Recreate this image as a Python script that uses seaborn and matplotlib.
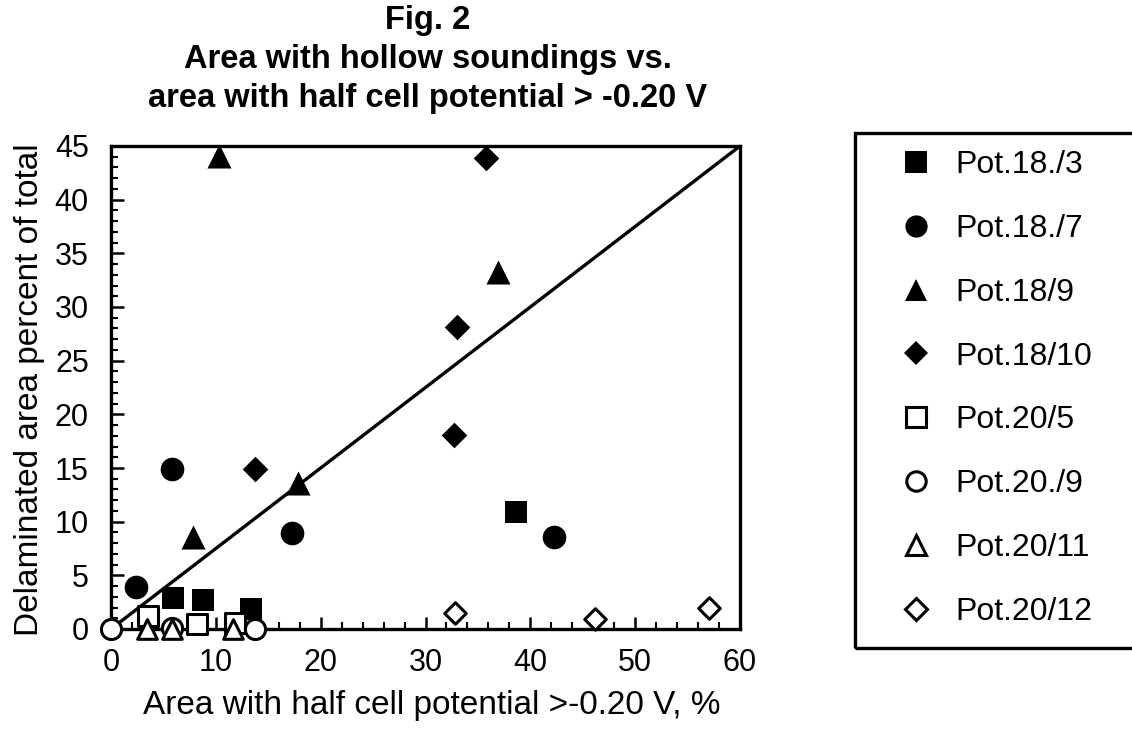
import matplotlib
matplotlib.use("Agg")
import matplotlib.pyplot as plt
import seaborn as sns
import pandas as pd
from matplotlib.patches import Rectangle
from matplotlib.ticker import MultipleLocator

# ---- data ----
series_names = ["Pot.18./3", "Pot.18./7", "Pot.18/9", "Pot.18/10",
                "Pot.20/5", "Pot.20./9", "Pot.20/11", "Pot.20/12"]
x_18_3 = [5.9, 8.8, 13.4, 38.6]
y_18_3 = [2.9, 2.7, 1.9, 10.9]
x_18_7 = [2.4, 5.8, 17.3, 42.3]
y_18_7 = [3.9, 14.9, 8.9, 8.6]
x_18_9 = [10.3, 36.9, 7.8, 17.8]
y_18_9 = [44.1, 33.3, 8.6, 13.6]
x_18_10 = [35.8, 33.0, 32.7, 13.7]
y_18_10 = [43.9, 28.1, 18.1, 14.9]
x_20_5 = [3.5, 8.2, 11.8]
y_20_5 = [1.2, 0.5, 0.6]
x_20_9 = [0.0, 5.8, 13.7]
y_20_9 = [0.0, 0.1, 0.0]
x_20_11 = [3.4, 5.8, 11.6]
y_20_11 = [0.0, 0.0, 0.0]
x_20_12 = [32.8, 46.2, 57.0]
y_20_12 = [1.5, 0.9, 2.0]
line_x = [0, 60]
line_y = [0, 45]

xs = [x_18_3, x_18_7, x_18_9, x_18_10, x_20_5, x_20_9, x_20_11, x_20_12]
ys = [y_18_3, y_18_7, y_18_9, y_18_10, y_20_5, y_20_9, y_20_11, y_20_12]

markers = ["s", "o", "^", "D", "s", "o", "^", "D"]
filled = [True, True, True, True, False, False, False, False]
sizes = [250, 290, 300, 170, 190, 210, 200, 120]
leg_sizes = [16, 16, 16, 12, 14, 14, 14, 11]

sns.set_style("white")
plt.rcParams["font.family"] = ["Liberation Sans", "DejaVu Sans"]
plt.rcParams["text.color"] = "black"
plt.rcParams["axes.labelcolor"] = "black"

fig = plt.figure(figsize=(11.32, 7.30), dpi=100)
ax = fig.add_axes([111/1132, 1-629/730, (740-111)/1132, (629-146)/730])

sns.lineplot(x=line_x, y=line_y, ax=ax, color="black", linewidth=2.4, zorder=2)

for name, x, y, m, f, s in zip(series_names, xs, ys, markers, filled, sizes):
    df = pd.DataFrame({"x": x, "y": y})
    sns.scatterplot(data=df, x="x", y="y", ax=ax, marker=m, s=s,
                    color="black" if f else "white",
                    edgecolor="black", linewidth=0 if f else 2.2,
                    zorder=4, clip_on=False, legend=False)

ax.set_xlim(0, 60)
ax.set_ylim(0, 45)
ax.xaxis.set_major_locator(MultipleLocator(10))
ax.xaxis.set_minor_locator(MultipleLocator(2))
ax.yaxis.set_major_locator(MultipleLocator(5))
ax.yaxis.set_minor_locator(MultipleLocator(1))
ax.tick_params(which="major", direction="in", length=9, width=1.8,
               labelsize=22, color="black", labelcolor="black")
ax.tick_params(axis="y", which="major", pad=16)
ax.tick_params(axis="x", which="major", pad=14)
ax.tick_params(which="minor", direction="in", length=5, width=1.5, color="black")
ax.tick_params(axis="x", which="both", top=False, bottom=True)
ax.tick_params(axis="y", which="both", left=True, right=False)
for sp in ax.spines.values():
    sp.set_linewidth(2.4)
    sp.set_color("black")

ax.set_xlabel("Area with half cell potential >-0.20 V, %", fontsize=24)
ax.set_ylabel("Delaminated area percent of total", fontsize=24)
ax.xaxis.set_label_coords((432-111)/629, -(690-629)/483)
ax.yaxis.set_label_coords(-(111-45)/629, (629-390)/483)

fig.text(428/1132, 1-5/730,
         "Fig. 2\nArea with hollow soundings vs.\narea with half cell potential > -0.20 V",
         ha="center", va="top", fontsize=23.5, fontweight="bold", linespacing=1.33)

# legend
handles = []
for name, m, f, ls in zip(series_names, markers, filled, leg_sizes):
    h, = ax.plot([], [], linestyle="none", marker=m, markersize=ls,
                 markerfacecolor="black" if f else "white",
                 markeredgecolor="black", markeredgewidth=0 if f else 2.2,
                 label=name)
    handles.append(h)
leg = fig.legend(handles=handles, loc="upper left",
                 bbox_to_anchor=(900/1132, 1-150/730),
                 frameon=False, fontsize=23, handlelength=1.0,
                 handletextpad=0.72, labelspacing=1.06, borderpad=0,
                 borderaxespad=0)
fig.patches.append(Rectangle((855/1132, 1-648/730), (1140-855)/1132, (648-133)/730,
                             transform=fig.transFigure, fill=False,
                             edgecolor="black", linewidth=2.4))

fig.savefig("out.png", dpi=100)
